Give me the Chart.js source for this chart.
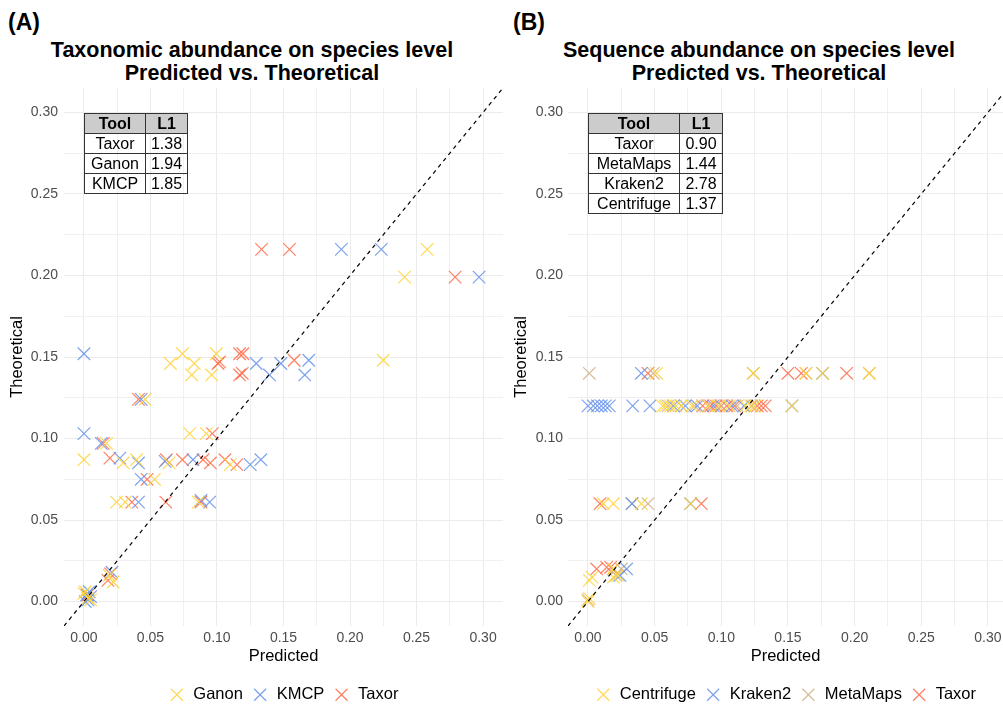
<!DOCTYPE html>
<html>
<head>
<meta charset="utf-8">
<script src="https://cdn.jsdelivr.net/npm/chart.js@4"></script>
<style>
  html, body { margin: 0; padding: 0; background: #fff; }
  body { width: 1003px; height: 707px; position: relative; overflow: hidden;
         font-family: "Liberation Sans", Arial, sans-serif; }
  .tag { position: absolute; font-weight: bold; font-size: 23px; line-height: 23px; color: #000; }
  .title { position: absolute; width: 500px; text-align: center; font-weight: bold;
           font-size: 21.5px; line-height: 23px; color: #000; white-space: nowrap; }
  .panel { position: absolute; top: 80px; height: 633px; }
  .l1 { position: absolute; border-collapse: collapse; font-size: 16px; color: #000; }
  .l1 td, .l1 th { border: 1.5px solid #333; padding: 0; height: 19px; line-height: 19px; text-align: center; }
  .l1 th { background: #cccccc; font-weight: bold; }
</style>
</head>
<body>
<div class="tag" style="left:8px; top:11px;">(A)</div>
<div class="tag" style="left:513px; top:11px;">(B)</div>
<div class="title" style="left:2px; top:39px;">Taxonomic abundance on species level<br>Predicted vs. Theoretical</div>
<div class="title" style="left:509px; top:39px;">Sequence abundance on species level<br>Predicted vs. Theoretical</div>

<div class="panel" style="left:0; width:506px;"><canvas id="chartA" width="506" height="633"></canvas></div>
<div class="panel" style="left:505px; width:498px;"><canvas id="chartB" width="498" height="633"></canvas></div>

<table class="l1" id="tableA" style="left:84px; top:113px;"></table>
<table class="l1" id="tableB" style="left:588px; top:113px;"></table>

<script>
// ---- Panel A: taxonomic abundance, [predicted, theoretical] ----
const taxGanon = [
  [0.258,0.216],[0.241,0.199],[0.065,0.146],[0.074,0.152],[0.083,0.146],[0.081,0.139],
  [0.096,0.139],[0.0995,0.152],[0.225,0.148],[0.046,0.124],[0.0795,0.103],[0.092,0.103],
  [0.017,0.097],[0.000,0.087],[0.0295,0.085],[0.0395,0.087],[0.064,0.085],[0.110,0.084],
  [0.053,0.075],[0.0245,0.061],[0.031,0.061],[0.086,0.061],[0.022,0.012],[0.019,0.016],
  [0.001,0.006],[0.003,0.002],[0.000,0.005],[0.005,0.001]
];
const taxKMCP = [
  [0.1935,0.216],[0.2235,0.216],[0.297,0.199],[0.000,0.152],[0.1295,0.146],[0.1395,0.139],
  [0.148,0.146],[0.169,0.148],[0.166,0.139],[0.043,0.124],[0.000,0.103],[0.013,0.097],
  [0.027,0.088],[0.041,0.085],[0.061,0.086],[0.082,0.087],[0.125,0.084],[0.133,0.087],
  [0.043,0.075],[0.041,0.061],[0.0945,0.061],[0.088,0.062],[0.021,0.018],[0.002,0.004],
  [0.005,0.003],[0.003,0.001],[0.001,0.000],[0.004,0.006]
];
const taxTaxor = [
  [0.1335,0.216],[0.1545,0.216],[0.279,0.199],[0.1008,0.146],[0.102,0.147],[0.117,0.152],
  [0.1195,0.152],[0.117,0.139],[0.119,0.140],[0.158,0.148],[0.041,0.124],[0.0965,0.103],
  [0.0145,0.097],[0.0195,0.088],[0.062,0.087],[0.074,0.087],[0.0895,0.087],[0.095,0.085],
  [0.106,0.087],[0.115,0.084],[0.0475,0.075],[0.036,0.061],[0.0615,0.061],[0.088,0.061],
  [0.018,0.013],[0.020,0.017],[0.003,0.004]
];

// ---- Panel B: sequence abundance, [predicted, theoretical] ----
const seqCentrifuge = [
  [0.0515,0.140],[0.124,0.140],[0.1635,0.140],[0.176,0.140],[0.211,0.140],
  [0.056,0.120],[0.058,0.120],[0.062,0.120],[0.066,0.120],[0.070,0.120],[0.078,0.120],
  [0.090,0.120],[0.098,0.120],[0.106,0.120],[0.118,0.120],[0.122,0.120],[0.125,0.120],[0.153,0.120],
  [0.0115,0.060],[0.019,0.060],[0.040,0.060],[0.077,0.060],
  [0.019,0.020],[0.0225,0.016],[0.003,0.015],[0.019,0.015],[0.001,0.013],
  [0.000,0.000],[0.001,0.002]
];
const seqKraken2 = [
  [0.040,0.140],[0.176,0.140],
  [0.000,0.120],[0.004,0.120],[0.007,0.120],[0.010,0.120],[0.013,0.120],[0.016,0.120],
  [0.0335,0.120],[0.0465,0.120],[0.064,0.120],[0.073,0.120],[0.082,0.120],[0.094,0.120],
  [0.108,0.120],[0.117,0.120],[0.153,0.120],
  [0.033,0.060],[0.077,0.060],
  [0.029,0.020],[0.024,0.016]
];
const seqMetaMaps = [
  [0.001,0.140],[0.049,0.140],[0.124,0.140],[0.1635,0.140],[0.211,0.140],
  [0.060,0.120],[0.070,0.120],[0.080,0.120],[0.090,0.120],[0.100,0.120],[0.112,0.120],[0.123,0.120],
  [0.033,0.060],[0.045,0.060],
  [0.025,0.020],[0.019,0.020],[0.021,0.016],
  [0.000,0.001]
];
const seqTaxor = [
  [0.045,0.140],[0.150,0.140],[0.160,0.140],[0.194,0.140],
  [0.086,0.120],[0.092,0.120],[0.096,0.120],[0.100,0.120],[0.104,0.120],[0.110,0.120],
  [0.127,0.120],[0.130,0.120],[0.133,0.120],
  [0.009,0.060],[0.085,0.060],
  [0.0065,0.020],[0.014,0.021],[0.017,0.021]
];

// L1 distance tables
const toolsA = ["Taxor", "Ganon", "KMCP"];
const l1A = ["1.38", "1.94", "1.85"];
const toolsB = ["Taxor", "MetaMaps", "Kraken2", "Centrifuge"];
const l1B = ["0.90", "1.44", "2.78", "1.37"];

// Identity line y = x
const identity = [-0.015, 0.315];

const COL = {
  yellow: 'rgba(255,210,55,0.85)',
  blue:   'rgba(100,145,235,0.85)',
  red:    'rgba(255,105,70,0.85)',
  tan:    'rgba(210,180,140,0.9)'
};

function buildTable(id, tools, vals, w1, w2) {
  const t = document.getElementById(id);
  let html = '<tr><th style="width:' + w1 + 'px">Tool</th><th style="width:' + w2 + 'px">L1</th></tr>';
  tools.forEach((name, i) => {
    html += '<tr><td>' + name + '</td><td>' + vals[i] + '</td></tr>';
  });
  t.innerHTML = html;
}
buildTable('tableA', toolsA, l1A, 60, 41);
buildTable('tableB', toolsB, l1B, 90, 42);

function toXY(arr) { return arr.map(p => ({x: p[0], y: p[1]})); }

function scatterSet(label, arr, color) {
  return {
    type: 'scatter', label, data: toXY(arr),
    pointStyle: 'crossRot', pointRadius: 8.8, pointHoverRadius: 8.8,
    borderColor: color, backgroundColor: color, pointBorderWidth: 1.2, borderWidth: 1.2,
    order: 1
  };
}

function identitySet() {
  return {
    type: 'line', label: '_identity',
    data: [{x: identity[0], y: identity[0]}, {x: identity[1], y: identity[1]}],
    borderColor: '#000', borderWidth: 1.2, borderDash: [4, 4],
    pointRadius: 0, fill: false, order: 0
  };
}

const tickFont = {family: '"Liberation Sans", Arial, sans-serif', size: 14};
const titleFont = {family: '"Liberation Sans", Arial, sans-serif', size: 16.5};

function fmt(v) {
  const k = v / 0.05;
  return Math.abs(k - Math.round(k)) < 1e-6 ? v.toFixed(2) : '';
}
function gridColor(ctx) {
  const v = ctx.tick ? ctx.tick.value : 0;
  const k = v / 0.05;
  return Math.abs(k - Math.round(k)) < 1e-6 ? '#EBEBEB' : '#F0F0F0';
}

// keep the plot panel edges fixed: no extra room reserved for edge tick labels
function noEdgePadding(s) {
  s.paddingTop = 0; s.paddingBottom = 0; s.paddingLeft = 0; s.paddingRight = 0;
}

function makeChart(id, datasets, opts) {
  return new Chart(document.getElementById(id), {
    data: { datasets },
    options: {
      responsive: false, animation: false, devicePixelRatio: 1,
      layout: { autoPadding: false, padding: { top: 8, right: opts.padRight, left: 0, bottom: 0 } },
      plugins: {
        tooltip: { enabled: false },
        legend: {
          position: 'bottom', fullSize: false,
          labels: {
            usePointStyle: true, boxHeight: 12, boxWidth: 18, padding: 9,
            color: '#000', font: titleFont,
            filter: item => !item.text.startsWith('_')
          }
        }
      },
      scales: {
        x: {
          type: 'linear', min: -0.015, max: opts.xmax,
          afterFit: s => { s.height = 51.5; noEdgePadding(s); },
          border: { display: false },
          grid: { color: gridColor, drawTicks: false, lineWidth: 1 },
          ticks: { stepSize: 0.025, maxTicksLimit: 20, includeBounds: false, autoSkip: false,
                   maxRotation: 0, padding: 4, color: '#4D4D4D', font: tickFont, callback: fmt },
          title: { display: true, text: 'Predicted', color: '#000', font: titleFont,
                   padding: { top: 0, bottom: 11.6 } }
        },
        y: {
          type: 'linear', min: -0.015, max: 0.315,
          afterFit: s => { s.width = opts.yWidth; noEdgePadding(s); },
          border: { display: false },
          grid: { color: gridColor, drawTicks: false, lineWidth: 1 },
          ticks: { stepSize: 0.025, maxTicksLimit: 20, includeBounds: false, autoSkip: false,
                   padding: opts.yTickPad, color: '#4D4D4D', font: tickFont, callback: fmt },
          title: { display: true, text: 'Theoretical', color: '#000', font: titleFont,
                   padding: { top: opts.yTitlePad, bottom: 0 } }
        }
      }
    }
  });
}

makeChart('chartA', [
  scatterSet('Ganon', taxGanon, COL.yellow),
  scatterSet('KMCP', taxKMCP, COL.blue),
  scatterSet('Taxor', taxTaxor, COL.red),
  identitySet()
], { padRight: 3, xmax: 0.315, yWidth: 64, yTickPad: 6, yTitlePad: 8 });

makeChart('chartB', [
  scatterSet('Centrifuge', seqCentrifuge, COL.yellow),
  scatterSet('Kraken2', seqKraken2, COL.blue),
  scatterSet('MetaMaps', seqMetaMaps, COL.tan),
  scatterSet('Taxor', seqTaxor, COL.red),
  identitySet()
], { padRight: 0, xmax: 0.3113, yWidth: 63, yTickPad: 5, yTitlePad: 7 });
</script>
</body>
</html>
